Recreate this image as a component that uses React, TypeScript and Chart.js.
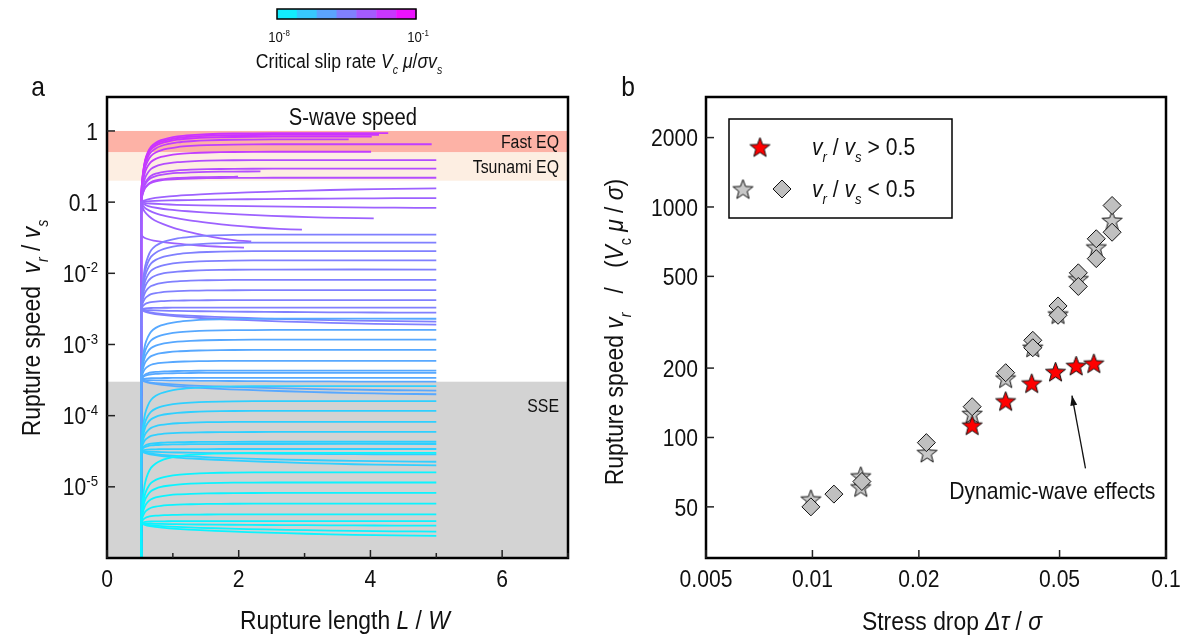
import React, { useEffect, useRef } from 'react';
import { Chart, registerables } from 'chart.js';
Chart.register(...registerables);

const PAGE_W = 1186;
const PAGE_H = 641;
const FONT = "'Liberation Sans', Arial, sans-serif";
const SQUEEZE = 0.88;

// ---------------- Panel a : rupture speed vs rupture length ----------------
const lengthTicks = [0, 1, 2, 3, 4, 5, 6, 7];
const lengthTickLabels = ['0', '', '2', '', '4', '', '6', ''];
const speedTicks = [1, 0.1, 1e-2, 1e-3, 1e-4, 1e-5];
const speedTickBase = ['1', '0.1', '10', '10', '10', '10'];
const speedTickExp = ['', '', '-2', '-3', '-4', '-5'];

const bandLow = [0.5, 0.2, 1e-6];
const bandHigh = [1, 0.5, 3e-4];
const bandColour = ['#fdb2a6', '#fdeee2', '#d3d3d3'];
const bandLabel = ['Fast EQ', 'Tsunami EQ', 'SSE'];
const bandLabelSpeed = [0.72, 0.32, 1.4e-4];

// one entry per simulated rupture (log10 of critical slip rate gives colour)
const runVc = [
  -7.7, -7.7, -7.7, -7.7, -7.7, -7.7, -7.7, -7.7, -7.7, -7.7,
  -6.7, -6.7, -6.7, -6.7, -6.7, -6.7, -6.7, -6.7, -6.7, -6.7, -6.7,
  -5.6, -5.6, -5.6, -5.6, -5.6, -5.6, -5.6, -5.6, -5.6, -5.6, -5.6,
  -4.5, -4.5, -4.5, -4.5, -4.5, -4.5, -4.5, -4.5, -4.5, -4.5, -4.5, -4.5,
  -3.7, -3.7, -3.7, -3.7, -3.7, -3.7, -3.7,
  -3.1, -3.1, -3.1, -3.1, -3.1,
  -2.7, -2.7, -2.7,
  -2.4, -2.4, -2.4,
];
const runStart = [
  3.1e-6, 3.1e-6, 3.1e-6, 3.1e-6, 3.1e-6, 3.1e-6, 3.1e-6, 3.1e-6, 3.1e-6, 3.1e-6,
  3.2e-5, 3.2e-5, 3.2e-5, 3.2e-5, 3.2e-5, 3.2e-5, 3.2e-5, 3.2e-5, 3.2e-5, 3.2e-5, 3.2e-5,
  3.2e-4, 3.2e-4, 3.2e-4, 3.2e-4, 3.2e-4, 3.2e-4, 3.2e-4, 3.2e-4, 3.2e-4, 3.2e-4, 3.2e-4,
  3.1e-3, 3.1e-3, 3.1e-3, 3.1e-3, 3.1e-3, 3.1e-3, 3.1e-3, 3.1e-3, 3.1e-3, 3.1e-3, 3.1e-3, 3.1e-3,
  0.1, 0.1, 0.1, 0.1, 0.1, 0.1, 0.035,
  0.1, 0.1, 0.1, 0.1, 0.1,
  0.11, 0.11, 0.11,
  0.12, 0.12, 0.12,
];
const runFinal = [
  3.0e-5, 1.6e-5, 1.15e-5, 8.2e-6, 5.8e-6, 4.1e-6, 3.3e-6, 2.85e-6, 2.35e-6, 2.05e-6,
  2.6e-4, 1.6e-4, 1.17e-4, 8.2e-5, 5.9e-5, 4.3e-5, 4.0e-5, 3.4e-5, 2.85e-5, 2.25e-5, 2.0e-5,
  2.3e-3, 1.6e-3, 1.17e-3, 8.4e-4, 5.9e-4, 4.3e-4, 4.0e-4, 3.4e-4, 3.0e-4, 2.25e-4, 2.0e-4,
  0.035, 0.027, 0.0205, 0.0152, 0.0113, 8.1e-3, 5.8e-3, 4.2e-3, 3.3e-3, 2.8e-3, 2.1e-3, 1.9e-3,
  0.156, 0.114, 0.083, 0.059, 0.041, 0.028, 0.023,
  0.39, 0.295, 0.27, 0.228, 0.22,
  0.76, 0.65, 0.51,
  0.93, 0.88, 0.83,
];
const runEnd = [
  5, 5, 5, 5, 5, 5, 5, 5, 5, 5,
  5, 5, 5, 5, 5, 5, 5, 5, 5, 5, 5,
  5, 5, 5, 5, 5, 5, 5, 5, 5, 5, 5,
  5, 5, 5, 5, 5, 5, 5, 5, 5, 5, 5, 5,
  5, 5, 5, 4.05, 2.96, 2.19, 2.08,
  5, 5, 2.33, 1.99, 5,
  3.67, 4.93, 4.01,
  4.27, 4.13, 4.02,
];
const runShape = [
  'q', 'q', 'q', 'q', 'q', 'q', 'q', 's', 's', 's',
  'q', 'q', 'q', 'q', 'q', 'q', 'q', 'q', 's', 's', 's',
  'q', 'q', 'q', 'q', 'q', 'q', 'q', 'q', 's', 's', 's',
  'q', 'q', 'q', 'q', 'q', 'q', 'q', 'q', 'q', 's', 's', 's',
  's', 's', 's', 's', 's', 's', 's',
  'q', 'q', 'q', 'q', 'q',
  'q', 'q', 'q',
  'q', 'q', 'q',
];
const launchLength = 0.52;
const floorSpeed = 1e-6;
// shape templates: offset in L/W after launch and remaining log-distance to final value
const quickOffset = [0.01, 0.03, 0.06, 0.1, 0.15, 0.22, 0.3, 0.4, 0.55, 0.75, 1.0, 1.4, 2.0];
const quickRemain = [0.8, 0.6, 0.42, 0.3, 0.21, 0.15, 0.11, 0.08, 0.05, 0.03, 0.015, 0.005, 0];
const slowFraction = [0.01, 0.03, 0.07, 0.12, 0.2, 0.3, 0.42, 0.56, 0.72, 0.86];
const slowRemain = [0.88, 0.76, 0.64, 0.54, 0.44, 0.34, 0.25, 0.16, 0.08, 0.03];

// ---------------- Panel b : normalised rupture speed vs stress drop ----------------
const stressTicks = [0.005, 0.01, 0.02, 0.05, 0.1];
const stressTickLabels = ['0.005', '0.01', '0.02', '0.05', '0.1'];
const normSpeedTicks = [2000, 1000, 500, 200, 100, 50];

const fastStress = [0.0283, 0.0352, 0.0417, 0.0487, 0.0557, 0.0625];
const fastSpeed = [113, 144, 172, 193, 205, 210];
const slowStarStress = [0.0099, 0.0137, 0.0137, 0.0211, 0.0283, 0.0352, 0.042, 0.0495, 0.0565, 0.0635, 0.0704];
const slowStarSpeed = [54, 68, 61, 86, 127, 181, 246, 343, 488, 670, 874];
const diamondStress = [0.0099, 0.0115, 0.0138, 0.021, 0.0283, 0.0352, 0.042, 0.042, 0.0495, 0.0495, 0.0565, 0.0565, 0.0635, 0.0635, 0.0704, 0.0704];
const diamondSpeed = [50, 56.8, 64.4, 95, 136, 191, 264, 245, 372, 339, 518, 452, 728, 597, 1015, 777];

const arrowTail = [0.0592, 73.5];
const arrowTip = [0.0542, 152];
const noteAt = [0.0477, 59];

// ---------------- helpers ----------------
type Seg = { t: string; it?: boolean; sub?: boolean; sup?: boolean };

function richText(ctx: CanvasRenderingContext2D, segs: Seg[], x: number, y: number, size: number,
  align: 'left' | 'center' | 'right' = 'center', rot = 0, color = '#111') {
  ctx.save();
  ctx.translate(x, y);
  if (rot) ctx.rotate(rot);
  ctx.scale(SQUEEZE, 1);
  const fontOf = (s: Seg) => `${s.it ? 'italic ' : ''}${s.sub || s.sup ? Math.round(size * 0.62) : size}px ${FONT}`;
  const widths: number[] = [];
  let total = 0;
  segs.forEach((s) => { ctx.font = fontOf(s); const w = ctx.measureText(s.t).width; widths.push(w); total += w; });
  let cx = align === 'left' ? 0 : align === 'right' ? -total : -total / 2;
  ctx.fillStyle = color;
  ctx.textAlign = 'left';
  ctx.textBaseline = 'alphabetic';
  const base = size * 0.36;
  segs.forEach((s, i) => {
    ctx.font = fontOf(s);
    const dy = s.sub ? size * 0.3 : s.sup ? -size * 0.4 : 0;
    ctx.fillText(s.t, cx, base + dy);
    cx += widths[i];
  });
  ctx.restore();
}

function coolColour(t: number) {
  const c = Math.max(0, Math.min(1, t));
  return `rgb(${Math.round(255 * c)},${Math.round(255 * (1 - c))},255)`;
}
const vcToColour = (vc: number) => coolColour((vc + 8) / 7);

function makeStar(fill: string, r: number) {
  const c = document.createElement('canvas');
  const s = Math.ceil(r * 2 + 4);
  c.width = s; c.height = s;
  const g = c.getContext('2d')!;
  g.beginPath();
  for (let k = 0; k < 10; k++) {
    const rr = k % 2 === 0 ? r : r * 0.42;
    const a = -Math.PI / 2 + (k * Math.PI) / 5;
    g.lineTo(s / 2 + rr * Math.cos(a), s / 2 + 1 + rr * Math.sin(a));
  }
  g.closePath();
  g.fillStyle = fill; g.fill();
  g.lineWidth = 1; g.strokeStyle = '#111'; g.stroke();
  return c;
}

function buildRun(i: number) {
  const ls = Math.log10(runStart[i]);
  const lf = Math.log10(runFinal[i]);
  const end = runEnd[i];
  const pts: { x: number; y: number }[] = [
    { x: launchLength, y: floorSpeed },
    { x: launchLength, y: runStart[i] },
  ];
  if (runShape[i] === 'q') {
    for (let k = 0; k < quickOffset.length; k++) {
      const x = launchLength + quickOffset[k];
      if (x >= end) break;
      pts.push({ x, y: Math.pow(10, lf + quickRemain[k] * (ls - lf)) });
    }
  } else {
    for (let k = 0; k < slowFraction.length; k++) {
      const x = launchLength + slowFraction[k] * (end - launchLength);
      pts.push({ x, y: Math.pow(10, lf + slowRemain[k] * (ls - lf)) });
    }
  }
  pts.push({ x: end, y: runFinal[i] });
  return pts;
}

// ---------------- plugins ----------------
const leftDecor = {
  id: 'leftDecor',
  beforeDatasetsDraw(chart: any) {
    const { ctx, chartArea: a, scales } = chart;
    const y = scales.y;
    ctx.save();
    bandLow.forEach((lo, i) => {
      const top = Math.max(a.top, y.getPixelForValue(bandHigh[i]));
      const bot = Math.min(a.bottom, y.getPixelForValue(lo));
      ctx.fillStyle = bandColour[i];
      ctx.fillRect(a.left, top, a.right - a.left, bot - top);
    });
    ctx.restore();
  },
  afterDraw(chart: any) {
    const { ctx, chartArea: a, scales } = chart;
    const x = scales.x, y = scales.y;
    ctx.save();
    // band labels
    bandLabel.forEach((t, i) => richText(ctx, [{ t }], a.right - 9, y.getPixelForValue(bandLabelSpeed[i]), 18, 'right'));
    richText(ctx, [{ t: 'S-wave speed' }], 353, a.top + 20, 23);
    // frame
    ctx.strokeStyle = '#000';
    ctx.lineWidth = 2.5;
    ctx.strokeRect(a.left, a.top, a.right - a.left, a.bottom - a.top);
    // ticks
    ctx.lineWidth = 1.5;
    ctx.strokeStyle = '#222';
    speedTicks.forEach((v, i) => {
      const py = y.getPixelForValue(v);
      ctx.beginPath(); ctx.moveTo(a.left, py); ctx.lineTo(a.left + 8, py); ctx.stroke();
      const segs: Seg[] = [{ t: speedTickBase[i] }];
      if (speedTickExp[i]) segs.push({ t: speedTickExp[i], sup: true });
      richText(ctx, segs, a.left - 9, py, 24, 'right');
    });
    lengthTicks.forEach((v, i) => {
      const px = x.getPixelForValue(v);
      const len = lengthTickLabels[i] ? 8 : 5;
      ctx.beginPath(); ctx.moveTo(px, a.bottom); ctx.lineTo(px, a.bottom - len); ctx.stroke();
      if (lengthTickLabels[i]) richText(ctx, [{ t: lengthTickLabels[i] }], px, a.bottom + 20, 24);
    });
    // axis titles
    richText(ctx, [{ t: 'Rupture length ' }, { t: 'L', it: true }, { t: ' / ' }, { t: 'W', it: true }], 345, 620, 26);
    richText(ctx, [{ t: 'Rupture speed  ' }, { t: 'v', it: true }, { t: 'r', it: true, sub: true }, { t: ' / ' }, { t: 'v', it: true }, { t: 's', it: true, sub: true }], 31, 328, 26, 'center', -Math.PI / 2);
    // panel letter
    richText(ctx, [{ t: 'a' }], 38, 86, 28);
    // colour bar
    const cbL = 277, cbT = 9, cbW = 139, cbH = 10, nSeg = 7;
    for (let k = 0; k < nSeg; k++) {
      ctx.fillStyle = coolColour((k + 0.5) / nSeg);
      ctx.fillRect(cbL + (k * cbW) / nSeg, cbT, cbW / nSeg + 0.5, cbH);
    }
    ctx.lineWidth = 1.5; ctx.strokeStyle = '#000';
    ctx.strokeRect(cbL, cbT, cbW, cbH);
    richText(ctx, [{ t: '10' }, { t: '-8', sup: true }], 279, 37, 15);
    richText(ctx, [{ t: '10' }, { t: '-1', sup: true }], 418, 37, 15);
    richText(ctx, [{ t: 'Critical slip rate ' }, { t: 'V', it: true }, { t: 'c', it: true, sub: true }, { t: ' μ', it: true }, { t: '/' }, { t: 'σv', it: true }, { t: 's', it: true, sub: true }], 349, 61, 20);
    ctx.restore();
  },
};

const starRed = makeStar('#ff0000', 10.5);
const starGrey = makeStar('#c8c8c8', 10.5);

function drawDiamond(ctx: CanvasRenderingContext2D, cx: number, cy: number, r: number) {
  ctx.beginPath();
  ctx.moveTo(cx, cy - r); ctx.lineTo(cx + r, cy); ctx.lineTo(cx, cy + r); ctx.lineTo(cx - r, cy); ctx.closePath();
  ctx.fillStyle = '#c0c0c0'; ctx.fill();
  ctx.lineWidth = 1; ctx.strokeStyle = '#111'; ctx.stroke();
}

const rightDecor = {
  id: 'rightDecor',
  afterDraw(chart: any) {
    const { ctx, chartArea: a, scales } = chart;
    const x = scales.x, y = scales.y;
    ctx.save();
    ctx.strokeStyle = '#000';
    ctx.lineWidth = 2.5;
    ctx.strokeRect(a.left, a.top, a.right - a.left, a.bottom - a.top);
    ctx.lineWidth = 1.5; ctx.strokeStyle = '#222';
    normSpeedTicks.forEach((v) => {
      const py = y.getPixelForValue(v);
      ctx.beginPath(); ctx.moveTo(a.left, py); ctx.lineTo(a.left + 8, py); ctx.stroke();
      richText(ctx, [{ t: String(v) }], a.left - 8, py, 24, 'right');
    });
    stressTicks.forEach((v, i) => {
      const px = x.getPixelForValue(v);
      ctx.beginPath(); ctx.moveTo(px, a.bottom); ctx.lineTo(px, a.bottom - 8); ctx.stroke();
      richText(ctx, [{ t: stressTickLabels[i] }], px, a.bottom + 20, 24);
    });
    richText(ctx, [{ t: 'Stress drop ' }, { t: 'Δτ', it: true }, { t: ' / ' }, { t: 'σ', it: true }], 952, 621, 26);
    richText(ctx, [{ t: 'Rupture speed ' }, { t: 'v', it: true }, { t: 'r', it: true, sub: true }, { t: '   /   (' }, { t: 'V', it: true }, { t: 'c', sub: true }, { t: ' μ', it: true }, { t: ' / ' }, { t: 'σ', it: true }, { t: ')' }], 614, 332, 26, 'center', -Math.PI / 2);
    richText(ctx, [{ t: 'b' }], 628, 86, 28);
    // legend
    const lx = a.left + 23, ly = a.top + 22, lw = 223, lh = 99;
    ctx.fillStyle = '#fff'; ctx.fillRect(lx, ly, lw, lh);
    ctx.lineWidth = 1.5; ctx.strokeStyle = '#000'; ctx.strokeRect(lx, ly, lw, lh);
    ctx.drawImage(starRed, lx + 31 - starRed.width / 2, ly + 28 - starRed.height / 2);
    ctx.drawImage(starGrey, lx + 14 - starGrey.width / 2, ly + 70 - starGrey.height / 2);
    drawDiamond(ctx, lx + 53, ly + 70, 9);
    const legSegs = (op: string): Seg[] => [{ t: 'v', it: true }, { t: 'r', it: true, sub: true }, { t: ' / ' }, { t: 'v', it: true }, { t: 's', it: true, sub: true }, { t: ' ' + op + ' 0.5' }];
    richText(ctx, legSegs('>'), lx + 83, ly + 27, 24, 'left');
    richText(ctx, legSegs('<'), lx + 83, ly + 69, 24, 'left');
    // annotation arrow
    const tx = x.getPixelForValue(arrowTail[0]), ty = y.getPixelForValue(arrowTail[1]);
    const hx = x.getPixelForValue(arrowTip[0]), hy = y.getPixelForValue(arrowTip[1]);
    ctx.strokeStyle = '#111'; ctx.lineWidth = 1.3;
    ctx.beginPath(); ctx.moveTo(tx, ty); ctx.lineTo(hx, hy); ctx.stroke();
    const ang = Math.atan2(hy - ty, hx - tx);
    ctx.beginPath();
    ctx.moveTo(hx, hy);
    ctx.lineTo(hx - 10 * Math.cos(ang) + 3.5 * Math.sin(ang), hy - 10 * Math.sin(ang) - 3.5 * Math.cos(ang));
    ctx.lineTo(hx - 10 * Math.cos(ang) - 3.5 * Math.sin(ang), hy - 10 * Math.sin(ang) + 3.5 * Math.cos(ang));
    ctx.closePath(); ctx.fillStyle = '#111'; ctx.fill();
    richText(ctx, [{ t: 'Dynamic-wave effects' }], x.getPixelForValue(noteAt[0]), y.getPixelForValue(noteAt[1]), 24);
    ctx.restore();
  },
};

export default function App() {
  const leftRef = useRef<HTMLCanvasElement>(null);
  const rightRef = useRef<HTMLCanvasElement>(null);

  useEffect(() => {
    const runs = runVc.map((vc, i) => ({
      data: buildRun(i),
      borderColor: vcToColour(vc),
      borderWidth: 1.8,
      pointRadius: 0,
      tension: 0.25,
      fill: false,
    }));
    const left = new Chart(leftRef.current!, {
      type: 'line',
      data: { datasets: runs as any },
      options: {
        animation: false,
        responsive: false,
        maintainAspectRatio: false,
        layout: { padding: { left: 107, right: PAGE_W - 568, top: 97, bottom: PAGE_H - 558 } },
        plugins: { legend: { display: false }, tooltip: { enabled: false } },
        scales: {
          x: { type: 'linear', min: 0, max: 7, display: false },
          y: { type: 'logarithmic', min: 1e-6, max: 3, display: false },
        },
      },
      plugins: [leftDecor],
    });

    const right = new Chart(rightRef.current!, {
      type: 'scatter',
      data: {
        datasets: [
          {
            data: fastStress.map((s, i) => ({ x: s, y: fastSpeed[i] })),
            pointStyle: starRed as any,
            pointRadius: 10,
          },
          {
            data: diamondStress.map((s, i) => ({ x: s, y: diamondSpeed[i] })),
            pointStyle: 'rectRot',
            pointRadius: 9,
            backgroundColor: '#c0c0c0',
            borderColor: '#111',
            borderWidth: 1,
          },
          {
            data: slowStarStress.map((s, i) => ({ x: s, y: slowStarSpeed[i] })),
            pointStyle: starGrey as any,
            pointRadius: 10,
          },
        ],
      },
      options: {
        animation: false,
        responsive: false,
        maintainAspectRatio: false,
        layout: { padding: { left: 706, right: PAGE_W - 1166, top: 97, bottom: PAGE_H - 558 } },
        plugins: { legend: { display: false }, tooltip: { enabled: false } },
        scales: {
          x: { type: 'logarithmic', min: 0.005, max: 0.1, display: false },
          y: { type: 'logarithmic', min: 30, max: 3000, display: false },
        },
      },
      plugins: [rightDecor],
    });
    return () => { left.destroy(); right.destroy(); };
  }, []);

  const canvasStyle: React.CSSProperties = { position: 'absolute', left: 0, top: 0, width: PAGE_W, height: PAGE_H };
  return (
    <div style={{ position: 'absolute', left: 0, top: 0, width: PAGE_W, height: PAGE_H, background: '#fff' }}>
      <canvas ref={leftRef} width={PAGE_W} height={PAGE_H} style={canvasStyle} />
      <canvas ref={rightRef} width={PAGE_W} height={PAGE_H} style={canvasStyle} />
    </div>
  );
}
